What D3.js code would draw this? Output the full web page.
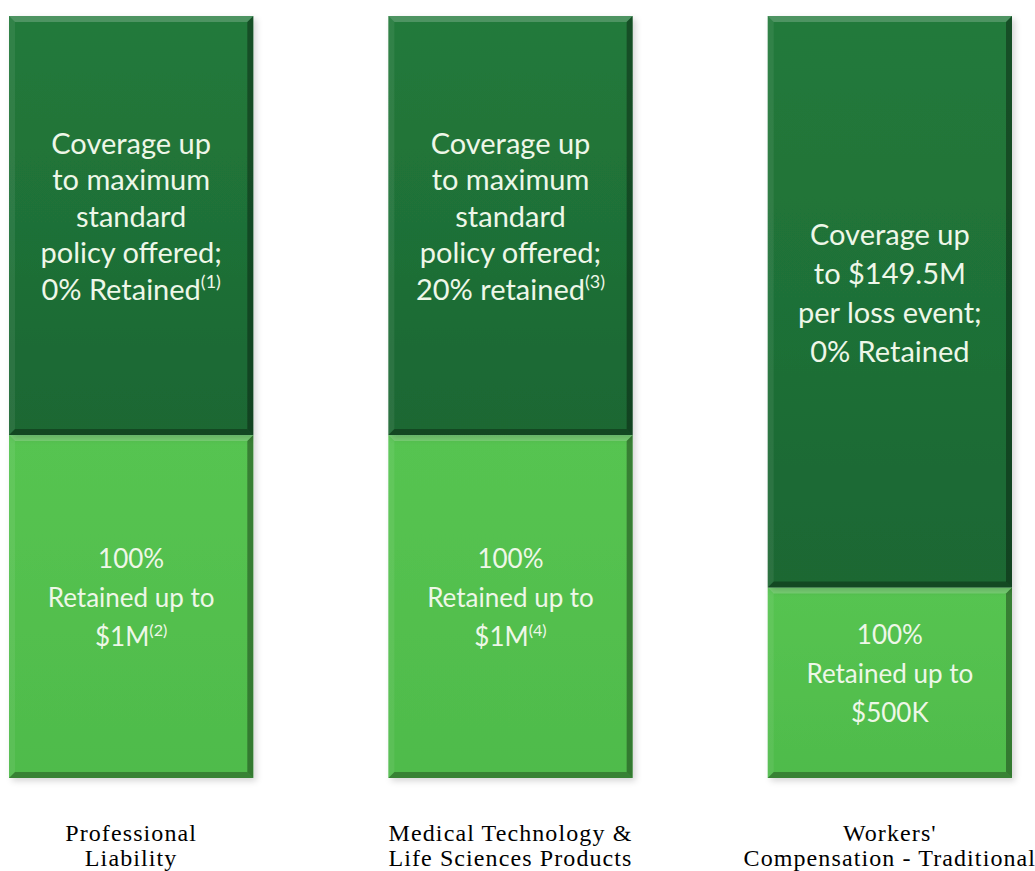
<!DOCTYPE html>
<html>
<head>
<meta charset="utf-8">
<script src="https://cdn.jsdelivr.net/npm/d3@7/dist/d3.min.js"></script>
<style>
  body { margin: 0; background: #fff; }
  svg { display: block; }
</style>
</head>
<body>
<svg width="1035" height="871"></svg>
<script>
// categories and their two-line labels
var categories = ["Professional Liability", "Medical Technology & Life Sciences Products", "Workers' Compensation - Traditional"];
var categoryLines = [
  ["Professional", "Liability"],
  ["Medical Technology &", "Life Sciences Products"],
  ["Workers'", "Compensation - Traditional"]
];

// share of bar height (percent): retained layer at the bottom, coverage on top
var retainedShare = [45, 45, 25];
var coverageShare = [55, 55, 75];

// text in each layer, "^" marks a footnote superscript
var coverageText = [
  ["Coverage up", "to maximum", "standard", "policy offered;", "0% Retained^(1)"],
  ["Coverage up", "to maximum", "standard", "policy offered;", "20% retained^(3)"],
  ["Coverage up", "to $149.5M", "per loss event;", "0% Retained"]
];
var retainedText = [
  ["100%", "Retained up to", "$1M^(2)"],
  ["100%", "Retained up to", "$1M^(4)"],
  ["100%", "Retained up to", "$500K"]
];

var svg = d3.select("svg");
var yBottom = 778, yTop = 16;

var x = d3.scaleBand()
  .domain(categories)
  .range([9, 1012])
  .paddingInner(0.356)
  .paddingOuter(0);

var y = d3.scaleLinear()
  .domain([0, 100])
  .range([yBottom, yTop]);

var data = categories.map(function(c, i) {
  return { cat: c, retained: retainedShare[i], coverage: coverageShare[i] };
});
var series = d3.stack().keys(["retained", "coverage"])(data);

var textSize = { retained: 26, coverage: 29 };
var texts = { retained: retainedText, coverage: coverageText };

var defs = svg.append("defs");
var shadow = defs.append("filter").attr("id", "shadow")
  .attr("x", "-5%").attr("y", "-5%").attr("width", "115%").attr("height", "115%");
shadow.append("feDropShadow")
  .attr("dx", 3).attr("dy", 3).attr("stdDeviation", 3)
  .attr("flood-color", "#000").attr("flood-opacity", 0.16);

var gradDark = defs.append("linearGradient").attr("id", "g-coverage")
  .attr("x1", 0).attr("y1", 0).attr("x2", 0).attr("y2", 1);
gradDark.append("stop").attr("offset", "0%").attr("stop-color", "#227a3b");
gradDark.append("stop").attr("offset", "100%").attr("stop-color", "#1c6733");
var gradLight = defs.append("linearGradient").attr("id", "g-retained")
  .attr("x1", 0).attr("y1", 0).attr("x2", 0).attr("y2", 1);
gradLight.append("stop").attr("offset", "0%").attr("stop-color", "#56c451");
gradLight.append("stop").attr("offset", "100%").attr("stop-color", "#4fbb4b");

var b = 6; // bevel width

var layer = svg.selectAll("g.layer")
  .data(series)
  .enter().append("g")
    .attr("class", "layer");

var seg = layer.selectAll("g.seg")
  .data(function(s) { return s.map(function(d, i) { return { d: d, key: s.key, i: i }; }); })
  .enter().append("g")
    .attr("class", "seg");

seg.append("rect")
  .attr("x", function(o) { return x(o.d.data.cat); })
  .attr("y", function(o) { return y(o.d[1]); })
  .attr("width", x.bandwidth())
  .attr("height", function(o) { return y(o.d[0]) - y(o.d[1]); })
  .attr("fill", function(o) { return "url(#g-" + o.key + ")"; })
  .attr("filter", "url(#shadow)");

// bevel edges
function bevel(o, side) {
  var x0 = x(o.d.data.cat), x1 = x0 + x.bandwidth();
  var y0 = y(o.d[1]), y1 = y(o.d[0]);
  var p;
  if (side == "top") p = [[x0, y0], [x1, y0], [x1 - b, y0 + b], [x0 + b, y0 + b]];
  if (side == "right") p = [[x1, y0], [x1, y1], [x1 - b, y1 - b], [x1 - b, y0 + b]];
  if (side == "bottom") p = [[x0, y1], [x1, y1], [x1 - b, y1 - b], [x0 + b, y1 - b]];
  if (side == "left") p = [[x0, y0], [x0, y1], [x0 + b, y1 - b], [x0 + b, y0 + b]];
  return p.map(function(q) { return q.join(","); }).join(" ");
}
var bevelStyle = {
  top: ["#ffffff", 0.2],
  left: ["#ffffff", 0.07],
  right: ["#000000", 0.35],
  bottom: ["#000000", 0.3]
};
["top", "left", "right", "bottom"].forEach(function(side) {
  seg.append("polygon")
    .attr("points", function(o) { return bevel(o, side); })
    .attr("fill", bevelStyle[side][0])
    .attr("fill-opacity", bevelStyle[side][1]);
});

// text in each layer
seg.each(function(o) {
  var lines = texts[o.key][o.i];
  var fs = textSize[o.key];
  var lineHeight = lines.length > 4 ? 36.5 : 39;
  var cx = x(o.d.data.cat) + x.bandwidth() / 2;
  var cy = (y(o.d[0]) + y(o.d[1])) / 2 - 9;
  var firstBase = cy - (lines.length - 1) * lineHeight / 2 + fs * 0.36;
  var t = d3.select(this).append("text")
    .attr("text-anchor", "middle")
    .attr("font-family", "Lato, 'Open Sans', sans-serif")
    .attr("font-size", fs)
    .attr("fill", "#eef7e8");
  lines.forEach(function(line, k) {
    var parts = line.split("^");
    t.append("tspan")
      .attr("x", cx)
      .attr("y", firstBase + k * lineHeight)
      .text(parts[0]);
    if (parts[1]) {
      t.append("tspan")
        .attr("dy", -fs * 0.4)
        .attr("font-size", fs * 0.62)
        .text(parts[1]);
    }
  });
});

// category labels
var labels = svg.append("g").attr("class", "labels");
labels.selectAll("text")
  .data(categories)
  .enter().append("text")
    .attr("text-anchor", "middle")
    .attr("font-family", "'Liberation Serif', 'Times New Roman', serif")
    .attr("font-size", 24)
    .attr("letter-spacing", 1.1)
    .attr("fill", "#000")
    .each(function(c, i) {
      var t = d3.select(this);
      categoryLines[i].forEach(function(line, k) {
        t.append("tspan")
          .attr("x", x(c) + x.bandwidth() / 2)
          .attr("y", 841 + k * 25)
          .text(line);
      });
    });
</script>
</body>
</html>
